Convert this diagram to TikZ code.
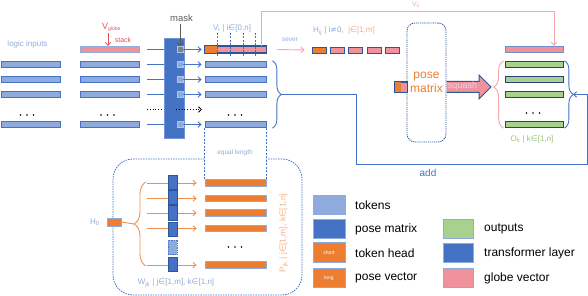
\documentclass[tikz,border=0pt]{standalone}
\usepackage{fontspec}
\setmainfont{Liberation Sans}
\newfontfamily\dvfont{DejaVu Sans}
\usetikzlibrary{decorations.pathreplacing,arrows.meta,calc,shapes.misc}
\newcommand{\inn}{{\dvfont ∈}}
\newcommand{\nq}{{\dvfont ≠}}
\definecolor{dblue}{HTML}{4472C4}
\definecolor{ddblue}{HTML}{2F5597}
\definecolor{lblue}{HTML}{8FAADC}
\definecolor{pinkf}{HTML}{F0929C}
\definecolor{pinkl}{HTML}{F4A6AE}
\definecolor{orangef}{HTML}{ED7D31}
\definecolor{lorange}{HTML}{F4B183}
\definecolor{greenf}{HTML}{A9D18E}
\definecolor{greent}{HTML}{9CC47F}
\definecolor{redt}{HTML}{E8505F}
\definecolor{grayt}{HTML}{595959}
\newcommand{\threedots}[2]{\fill (#1-6.5,#2) circle (0.9) (#1,#2) circle (0.9) (#1+6.5,#2) circle (0.9);}
\begin{document}
\begin{tikzpicture}[x=1pt,y=-1pt,
  every node/.style={font=\fontsize{8}{9.6}\selectfont, inner sep=0pt},
  >={Straight Barb[length=3pt,width=5.5pt]},
  bar/.style={draw=dblue, fill=lblue, line width=0.8pt, minimum height=6.5pt},
  tokA/.style={bar, minimum width=59pt},
  tokC/.style={bar, minimum width=61pt},
  outbar/.style={draw=ddblue!80!black, fill=greenf, line width=0.8pt, minimum height=6.5pt, minimum width=58pt},
  sq/.style={draw=lblue!70!white, fill=lblue, line width=0.6pt, minimum width=6pt, minimum height=6pt},
  seg/.style={draw=ddblue, fill=pinkf, line width=0.8pt, minimum width=14pt, minimum height=6pt},
  lnk/.style={draw=dblue, line width=0.9pt},
  obar/.style={draw=lblue, fill=orangef, line width=0.8pt, minimum width=61pt, minimum height=6.5pt},
  oarr/.style={draw=orangef!85!white, line width=0.9pt, ->},
  pmblock/.style={chamfered rectangle, chamfered rectangle corners={north east,south east}, chamfered rectangle xsep=2.5pt, chamfered rectangle ysep=4pt, draw=ddblue, fill=dblue, line width=0.6pt, minimum width=9pt, minimum height=14.5pt},
  legbox/.style={draw=lblue, line width=0.8pt, minimum width=32pt, minimum height=19.5pt},
  legtxt/.style={anchor=west, font=\fontsize{12}{14}\selectfont},
  lbtext/.style={text=lblue}
]
\useasboundingbox (0,0) rectangle (588,296);

% ---------- column 1: logic inputs
\node[lbtext, font=\fontsize{8}{9.6}\selectfont] (li) at (27.5,44) {logic inputs};
\foreach \y/\n in {64.5/1,79.5/2,94.5/3,124.5/4} \node[tokA] (a\n) at (30.5,\y) {};
\threedots{27}{115}

% ---------- column 2
\node[tokA, fill=pinkf, draw=lblue] (b0) at (109.5,49.5) {};
\foreach \y/\n in {64.5/1,79.5/2,94.5/3,124.5/4} \node[tokA] (b\n) at (109.5,\y) {};
\threedots{107.5}{115}
\node[text=redt, anchor=west, font=\fontsize{9}{10}\selectfont] (vg) at (102,27) {V\textsubscript{\fontsize{5}{6}\selectfont globe}};
\node[text=redt, font=\fontsize{7}{8}\selectfont] (stk) at (123,40) {stack};
\coordinate (vga) at (108,33);
\draw[redt, line width=0.8pt, ->] (vga) -- (vga |- b0.north);

% ---------- transformer layer
\node[draw=lblue!60!dblue, fill=dblue, line width=0.8pt, minimum width=20pt, minimum height=100pt] (tl) at (174,88) {};
\node[sq, fill=gray] (s0) at (180,49.5) {};
\foreach \y/\n in {64.5/1,79.5/2,94.5/3,124.5/4} \node[sq] (s\n) at (180,\y) {};
\node[text=grayt, font=\fontsize{9.5}{11}\selectfont] (mk) at (181.5,18) {mask};
\draw[grayt, line width=0.9pt, ->] (mk.south) ++(-1.5,2) -- (s0.north);

% ---------- column 3
\node[tokC, fill=pinkf, draw=ddblue] (c0) at (235.5,49.5) {};
\fill[orangef] (c0.south west) rectangle ($(c0.north west)+(12,0)$);
\draw[ddblue, line width=0.8pt] (c0.south west) rectangle (c0.north east);
\foreach \y/\n in {64.5/1,79.5/2,94.5/3,124.5/4} \node[tokC] (c\n) at (235.5,\y) {};
\threedots{235}{115}
\foreach \x in {217,230,243,255} \draw[dblue, line width=0.9pt, dash pattern=on 2pt off 1.5pt] (\x,33) -- (\x,57);
\node[lbtext] (vi) at (232,28) {V\textsubscript{i} | i\inn[0,n]};

% arrows column 2 -> layer -> column 3
\foreach \n in {0,1,2,3,4} {
  \draw[lnk] ($(b\n.east)+(8,0)$) -- (b\n.east -| tl.west);
  \draw[lnk, ->] (s\n.east) -- ($(c\n.west)+(-3,0)$);
}
\coordinate (d2) at (147,109.5);
\coordinate (d3) at (202,109.5);
\draw[black, line width=0.8pt, dotted] (d2) -- (d2 -| tl.west);
\draw[black, line width=0.8pt, dotted, ->] (176,109.5) -- (d3);

% brace column 3
\draw[dblue, line width=0.9pt, decorate, decoration={brace, amplitude=9pt}] ($(c1.north east)+(6,0)$) -- ($(c4.south east)+(6,0)$);
\coordinate (bt) at (281,94.5);

% ---------- V0 line and sever
\node[seg, fill=orangef] (h1) at (319,50) {};
\node[seg] (h2) at (337,50) {};
\node[seg] (h3) at (355,50) {};
\node[seg] (h4) at (374,50) {};
\node[seg] (h5) at (392,50) {};
\draw[pinkl, line width=0.9pt, ->] ($(c0.east)+(11,0)$) -- ($(h1.west)+(-7,0)$);
\node[lbtext, font=\fontsize{6.5}{7}\selectfont] (sv) at (290,39.5) {sever};
\node[anchor=west] (hl) at (313,31) {\color{lblue}H\textsubscript{ij} | i\nq0,\ \ \color{lorange}j\inn[1,m]};

% ---------- outputs
\node[outbar, fill=pinkf, draw=lblue!70!ddblue] (o0) at (534,49.5) {};
\foreach \y/\n in {64.5/1,79.5/2,94.5/3,124.5/4} \node[outbar] (o\n) at (534,\y) {};
\threedots{533}{113}
\coordinate (vtop) at (554,11);
\draw[pinkl, line width=0.9pt, ->] ($(c0.north east)+(-5,0)$) |- (vtop) -- (vtop |- o0.north);
\node[text=pinkl, font=\fontsize{7}{8}\selectfont] (v0) at (416,5) {V\textsubscript{0}};
\draw[pinkl, line width=0.9pt, decorate, decoration={brace, amplitude=10pt, aspect=0.61}] ($(o4.south west)+(-1,0)$) -- ($(o1.north west)+(-1,0)$);
\draw[dblue, line width=0.9pt, decorate, decoration={brace, amplitude=9pt}] ($(o1.north east)+(1,0)$) -- ($(o4.south east)+(1,0)$);
\coordinate (ot) at (573,94.5);
\node[text=greent] (ol) at (532,139) {O\textsubscript{k} | k\inn[1,n]};

% ---------- pose matrix box and squash
\node[draw=ddblue, line width=0.8pt, dash pattern=on 1.2pt off 0.9pt, rounded corners=8pt, minimum width=39pt, minimum height=119pt, text=orangef, align=center, font=\fontsize{12}{14}\selectfont] (pm) at (426.5,82.5) {pose\\matrix};
\node[draw=ddblue, fill=pinkf, line width=0.8pt, minimum width=12pt, minimum height=10pt] (hs) at (401,87) {};
\fill[orangef] (hs.south west) rectangle ($(hs.north west)+(6,0)$);
\draw[ddblue, line width=0.8pt] (hs.south west) rectangle (hs.north east);
\draw[draw=ddblue, fill=pinkf, line width=1pt, line join=miter] (446.5,81.5) -- (479,81.5) -- (479,75) -- (491,87) -- (479,99) -- (479,92.5) -- (446.5,92.5);
\node[text=lblue!40!white, font=\fontsize{9}{10}\selectfont] (sqt) at (462.5,86) {squash};

% ---------- add loop
\draw[lnk, ->] (bt) -| (356,164) -| (587,94.5) -- (ot);
\node[text=dblue, font=\fontsize{10}{12}\selectfont] (add) at (428,173) {add};

% ---------- lower box
\node[draw=dblue, line width=0.8pt, dash pattern=on 1.5pt off 1pt, rounded corners=20pt, minimum width=189pt, minimum height=136pt] (lb) at (207.5,227) {};
\fill[white] (205,130) rectangle (266,179);
\draw[dblue, line width=0.8pt, dash pattern=on 2pt off 1.5pt] (c4.south west) -- ++(0,51);
\draw[dblue, line width=0.8pt, dash pattern=on 2pt off 1.5pt] (c4.south east) -- ++(0,51);
\node[lbtext, font=\fontsize{6.5}{7}\selectfont] (eq) at (235,153) {equal length};

\foreach \y/\n in {183/1,198.5/2,213/3,228.5/4,265/5} {
  \node[obar] (p\n) at (235.5,\y) {};
  \draw[oarr] ($(p\n.west)+(-58,0)$) -- ($(p\n.west)+(-8,0)$);
}
\threedots{235}{247}
\foreach \y/\n in {182.5/1,197.5/2,213/3,229.5/4,264.5/6} \node[pmblock] (m\n) at (172.5,\y) {};
\node[pmblock, fill=lblue, draw=dblue, dash pattern=on 1pt off 0.8pt] (m5) at (172.5,247.5) {};

\node[draw=lblue, fill=orangef, line width=0.8pt, minimum width=14pt, minimum height=8pt] (h0) at (114,222) {};
\node[lbtext] (h0l) at (95,222) {H\textsubscript{0}};
\draw[orangef!85!white, line width=0.9pt, decorate, decoration={brace, amplitude=12pt}] (146,266) -- (146,182);
\coordinate (obt) at (134,224);
\draw[orangef!85!white, line width=0.9pt] (h0.east) -- (obt);
\node[lbtext] (wl) at (176,283) {W\textsubscript{jk} | j\inn[1,m], k\inn[1,n]};
\node[text=lorange, rotate=90, font=\fontsize{8.5}{10}\selectfont] (pl) at (284,233) {P\textsubscript{jk} | j\inn[1,m], k\inn[1,n]};

% ---------- legend
\node[legbox, fill=lblue] (g1) at (329,205) {};
\node[legbox, chamfered rectangle, chamfered rectangle corners={north west,south west}, chamfered rectangle xsep=3pt, chamfered rectangle ysep=5pt, fill=dblue, minimum height=19pt] (g2) at (329,228.5) {};
\node[legbox, fill=orangef, text=white, font=\fontsize{5}{6}\selectfont] (g3) at (329,252.5) {short};
\node[legbox, fill=orangef, text=white, font=\fontsize{5}{6}\selectfont] (g4) at (329,278) {long};
\node[legbox, fill=greenf, minimum width=30pt] (g5) at (458,229) {};
\node[legbox, fill=dblue, minimum width=30pt] (g6) at (458,253) {};
\node[legbox, fill=pinkf, minimum width=30pt] (g7) at (458,278) {};
\node[legtxt] (t1) at (355,205) {tokens};
\node[legtxt] (t2) at (355,229) {pose matrix};
\node[legtxt] (t3) at (355,253) {token head};
\node[legtxt] (t4) at (355,278) {pose vector};
\node[legtxt] (t5) at (484,229) {outputs};
\node[legtxt] (t6) at (484,253) {transformer layer};
\node[legtxt] (t7) at (484,278) {globe vector};
\end{tikzpicture}
\end{document}
